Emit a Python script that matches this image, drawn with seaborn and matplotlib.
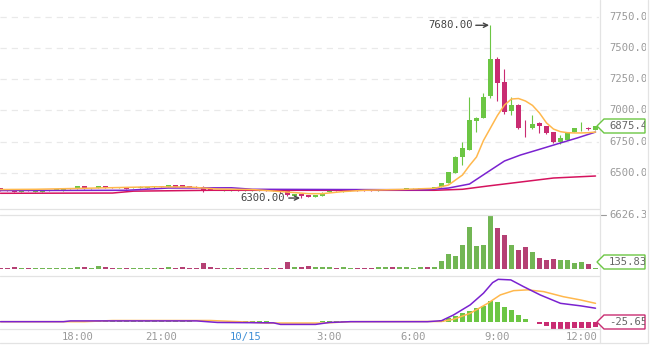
import numpy as np
import pandas as pd
import matplotlib
matplotlib.use("Agg")
import matplotlib.pyplot as plt
import matplotlib.transforms as mtrans
from matplotlib.patches import Polygon
from matplotlib.lines import Line2D
import seaborn as sns

sns.set_style("white")
plt.rcParams['font.family'] = ['DejaVu Sans Mono', 'DejaVu Sans']

# ---------------- data (15-minute candles, 10/14 15:15 -> 10/15 12:30) -------------
tick_pos = [11, 23, 35, 47, 59, 71, 83]
tick_labels = ["18:00", "21:00", "10/15", "3:00", "6:00", "9:00", "12:00"]

opens = [6378, 6370, 6367, 6352, 6366, 6352, 6352, 6360, 6364, 6362,
         6378, 6376, 6396, 6378, 6380, 6396, 6384, 6381, 6388, 6382,
         6382, 6380, 6386, 6394, 6391, 6404, 6404, 6396, 6392, 6391,
         6372, 6366, 6362, 6362, 6365, 6362, 6362, 6362, 6372, 6360,
         6364, 6356, 6319, 6332, 6324, 6311, 6319, 6348, 6359, 6351,
         6356, 6372, 6366, 6366, 6360, 6366, 6374, 6366, 6364, 6366,
         6372, 6378, 6372, 6388, 6420, 6500, 6628, 6684, 6915, 6940,
         7115, 7410, 7227, 6995, 7043, 6862, 6860, 6900, 6875, 6827,
         6745, 6763, 6827, 6858, 6862, 6845]
closes = [6362, 6364, 6352, 6370, 6362, 6360, 6362, 6364, 6367, 6380,
          6381, 6396, 6376, 6381, 6396, 6382, 6381, 6384, 6372, 6385,
          6385, 6390, 6396, 6390, 6404, 6391, 6391, 6390, 6380, 6364,
          6364, 6363, 6365, 6365, 6362, 6365, 6368, 6372, 6360, 6364,
          6346, 6324, 6332, 6314, 6311, 6324, 6343, 6359, 6356, 6364,
          6372, 6356, 6360, 6360, 6366, 6370, 6370, 6372, 6378, 6376,
          6378, 6372, 6388, 6420, 6508, 6628, 6700, 6923, 6940, 7107,
          7410, 7219, 6987, 7043, 6859, 6858, 6890, 6875, 6820, 6750,
          6780, 6827, 6860, 6862, 6848, 6875.4]
highs = [6382, 6372, 6370, 6372, 6368, 6362, 6364, 6366, 6368, 6382,
         6384, 6398, 6398, 6384, 6398, 6398, 6386, 6386, 6390, 6387,
         6396, 6392, 6398, 6396, 6406, 6406, 6406, 6398, 6394, 6393,
         6374, 6368, 6367, 6367, 6367, 6367, 6370, 6374, 6374, 6366,
         6366, 6358, 6334, 6334, 6326, 6326, 6345, 6372, 6361, 6366,
         6374, 6374, 6368, 6368, 6368, 6372, 6376, 6374, 6380, 6378,
         6380, 6380, 6390, 6424, 6512, 6632, 6748, 7107, 6945, 7139,
         7680, 7426, 7331, 7107, 7051, 6923, 6963, 6905, 6878, 6830,
         6803, 6830, 6863, 6907, 6870, 6878]
lows = [6358, 6360, 6348, 6350, 6360, 6350, 6350, 6358, 6362, 6360,
        6376, 6374, 6374, 6376, 6378, 6380, 6380, 6380, 6370, 6380,
        6380, 6378, 6384, 6388, 6389, 6389, 6389, 6388, 6378, 6346,
        6362, 6361, 6360, 6360, 6360, 6360, 6360, 6360, 6358, 6356,
        6344, 6320, 6316, 6300, 6305, 6309, 6317, 6346, 6354, 6349,
        6354, 6354, 6358, 6358, 6358, 6364, 6368, 6364, 6362, 6364,
        6370, 6370, 6370, 6386, 6418, 6498, 6564, 6680, 6827, 6936,
        7100, 7075, 6971, 6960, 6850, 6788, 6855, 6820, 6810, 6740,
        6735, 6760, 6825, 6835, 6840, 6843]
volumes = [150, 150, 250, 150, 150, 150, 150, 150, 150, 150,
           150, 250, 250, 150, 375, 250, 150, 150, 150, 150,
           150, 150, 150, 150, 250, 150, 250, 150, 150, 750,
           250, 150, 150, 150, 150, 150, 150, 150, 150, 150,
           150, 875, 250, 250, 375, 250, 250, 250, 125, 250,
           125, 125, 125, 125, 250, 250, 250, 250, 250, 125,
           250, 250, 250, 1000, 1875, 1625, 3000, 5126, 2875, 3000,
           6626.37, 5000, 4125, 3000, 2375, 2750, 2125, 1375, 1125, 1250,
           1125, 1125, 750, 875, 625, 135.83]

# moving averages read at key candle positions
ma_fast_x = [0, 5, 12, 22, 27, 31, 36, 40, 44, 46, 49, 52, 58, 62, 64, 66, 67, 68,
             69, 70, 71, 72, 73, 74, 75, 76, 77, 78, 79, 80, 81, 82, 83, 84, 85]
ma_fast_y = [6368, 6370, 6378, 6390, 6388, 6372, 6368, 6352, 6335, 6335, 6352, 6362,
             6370, 6378, 6404, 6484, 6560, 6628, 6760, 6860, 6960, 7043, 7091, 7095,
             7075, 7040, 6979, 6900, 6851, 6830, 6822, 6820, 6820, 6822, 6827]
ma_mid_x = [0, 18, 24, 33, 36, 61, 64, 67, 69.6, 72, 74.3, 76.7, 80, 82.4, 85]
ma_mid_y = [6360, 6362, 6380, 6382, 6370, 6366, 6380, 6412, 6508, 6596, 6644, 6684,
            6740, 6780, 6827]
ma_slow_x = [0, 16, 19, 30, 62, 66, 69.6, 74.3, 79, 85]
ma_slow_y = [6338, 6340, 6355, 6362, 6362, 6370, 6396, 6428, 6460, 6476]

dif_x = [0, 9, 10, 28, 31, 39, 40, 45, 47, 50, 61, 63, 64.7, 67.1, 69, 70.3, 71.1,
         72.9, 74.7, 77.1, 80, 82.9, 85]
dif_y = [0, 0, 4, 4, -4, -6, -14, -14, -4, 0, 0, 5, 34, 86, 146, 200, 217, 214, 180,
         137, 94, 81, 69]
dea_x = [0, 12, 16, 30, 34, 38, 46, 50, 63, 64.7, 67.1, 69.6, 71.4, 73.3, 75.3, 77.6,
         80.4, 82.9, 85]
dea_y = [0, 0, 6, 6, 0, -7, -7, 0, 1, 12, 43, 94, 137, 159, 163, 154, 128, 111, 94]
macd_hist = [0.7] * 13 + [3] * 15 + [0.7] * 2 + [-4] * 3 + [1.5] * 6 + [-1.5] + [-4] * 6 + \
            [3] * 16 + [2.5, 9, 17, 29, 43, 56, 68, 82, 106, 101, 75, 60, 34, 14, -4, -10,
                        -21, -37, -37, -37, -34, -34, -31, -25.65]

price_ticks = [6500, 6750, 7000, 7250, 7500, 7750]

# ---------------- styling -------------
UP = "#6cc644"
DOWN = "#c92c72"
C_FAST = "#ffb84d"
C_MID = "#7a22d0"
C_SLOW = "#d5135e"
GRID = "#e9e9e9"
FRAME = "#e3e3e3"
LBL = "#9a9a9a"

W, H = 664, 346
fig = plt.figure(figsize=(W / 100, H / 100), dpi=100)
fig.patch.set_facecolor("white")


def fy(y):
    return 1 - y / H


XL = (-0.07, 85.5)
ax_p = fig.add_axes([0, fy(209), 599 / W, 209 / H])
ax_v = fig.add_axes([0, fy(269), 599 / W, (269 - 215) / H])
ax_m = fig.add_axes([0, fy(329), 599 / W, (329 - 276) / H])

idx = np.arange(len(opens))
o = np.array(opens, float)
c = np.array(closes, float)
hi = np.array(highs, float)
lo = np.array(lows, float)
direction = ["up" if cc >= oo else "down" for oo, cc in zip(o, c)]
col = [UP if d == "up" else DOWN for d in direction]

# price panel
for yv in price_ticks:
    ax_p.axhline(yv, color=GRID, lw=0.9, dashes=(5, 4), zorder=0)
ax_p.vlines(idx, lo, hi, colors=col, lw=0.8, zorder=2)
body_b = np.minimum(o, c)
body_h = np.maximum(np.abs(c - o), 5)
ax_p.bar(idx, body_h, bottom=body_b, width=0.72, color=col, zorder=3, linewidth=0)

for xs, ys, cl in [(ma_slow_x, ma_slow_y, C_SLOW), (ma_mid_x, ma_mid_y, C_MID),
                   (ma_fast_x, ma_fast_y, C_FAST)]:
    sns.lineplot(x=xs, y=ys, ax=ax_p, color=cl, lw=1.1, zorder=4)

ax_p.set_xlim(*XL)
ax_p.set_ylim(6212.5, 7881.8)
ax_p.axis("off")

arrow_kw = dict(arrowstyle="->", color="#444444", lw=1.0, shrinkA=0, shrinkB=1)
ax_p.annotate("7680.00", xy=(70, 7680), xytext=(-18, 0), textcoords="offset pixels",
              ha="right", va="center", fontsize=7.6, color="#444444",
              arrowprops=arrow_kw, annotation_clip=False)
ax_p.annotate("6300.00", xy=(43, 6300), xytext=(-16, 0), textcoords="offset pixels",
              ha="right", va="center", fontsize=7.6, color="#444444",
              arrowprops=arrow_kw, annotation_clip=False)

# volume panel
vdf = pd.DataFrame({"i": idx, "v": volumes, "d": direction})
sns.barplot(data=vdf, x="i", y="v", hue="d", palette={"up": UP, "down": DOWN},
            dodge=False, width=0.72, legend=False, ax=ax_v, linewidth=0,
            native_scale=True)
ax_v.set_xlim(*XL)
ax_v.set_ylim(0, 6626.37)
ax_v.axis("off")

# MACD panel
h = np.array(macd_hist, float)
ax_m.bar(idx, h, width=0.72, color=[UP if v >= 0 else DOWN for v in h], linewidth=0, zorder=2)
sns.lineplot(x=dea_x, y=dea_y, ax=ax_m, color=C_FAST, lw=1.1, zorder=3)
sns.lineplot(x=dif_x, y=dif_y, ax=ax_m, color=C_MID, lw=1.1, zorder=4)
ax_m.set_xlim(*XL)
ax_m.set_ylim(-37.5, 234)
for s in ax_m.spines.values():
    s.set_visible(False)
ax_m.set_yticks([])
ax_m.set_xticks(tick_pos)
ax_m.set_xticklabels(tick_labels, fontsize=7.6, color=LBL)
ax_m.tick_params(axis="x", length=0, pad=2)
for t in ax_m.get_xticklabels():
    if t.get_text() == "10/15":
        t.set_color("#3f8fd6")
ax_m.set_ylabel("")
ax_m.set_xlabel("")


# frame lines (pixel coordinates)
def hline(y, x0, x1):
    fig.add_artist(Line2D([x0 / W, x1 / W], [fy(y), fy(y)], color=FRAME, lw=0.9,
                          transform=fig.transFigure))


def vline(x, y0, y1):
    fig.add_artist(Line2D([x / W, x / W], [fy(y0), fy(y1)], color=FRAME, lw=0.9,
                          transform=fig.transFigure))


hline(209, 0, 599)
hline(215, 0, 599)
hline(276, 0, 599)
hline(329, 0, 599)
hline(343, 0, 647)
vline(599.5, 0, 343)
vline(647.5, 0, 343)

clip_bb = mtrans.TransformedBbox(mtrans.Bbox.from_extents(599 / W, 0, 646 / W, 1),
                                 fig.transFigure)

# right axis labels for price
tr_p = mtrans.blended_transform_factory(fig.transFigure, ax_p.transData)
for yv in price_ticks:
    t = fig.text(609 / W, yv, f"{yv:.2f}", transform=tr_p, ha="left", va="center",
                 fontsize=7.6, color=LBL)
    t.set_clip_box(clip_bb)
    t.set_clip_on(True)

# volume max label with tick
tr_v = mtrans.blended_transform_factory(fig.transFigure, ax_v.transData)
fig.add_artist(Line2D([601 / W, 606 / W], [6626.37, 6626.37], color=LBL, lw=0.8,
                      transform=tr_v))
t = fig.text(609 / W, 6626.37, "6626.37", transform=tr_v, ha="left", va="center",
             fontsize=7.6, color=LBL)
t.set_clip_box(clip_bb)
t.set_clip_on(True)


def value_box(yc, text, color):
    pts = [(597, yc), (604, yc - 7), (645, yc - 7), (645, yc + 7), (604, yc + 7)]
    poly = Polygon([(x / W, fy(y)) for x, y in pts], closed=True, facecolor="white",
                   edgecolor=color, lw=1.0, transform=fig.transFigure, zorder=5)
    fig.add_artist(poly)
    tt = fig.text(609 / W, fy(yc), text, ha="left", va="center", fontsize=7.6,
                  color="#666666", zorder=6)
    tt.set_clip_box(mtrans.TransformedBbox(
        mtrans.Bbox.from_extents(599 / W, 0, 644.5 / W, 1), fig.transFigure))
    tt.set_clip_on(True)


value_box(126, "6875.40", UP)
value_box(262, "135.83", UP)
value_box(322, "-25.65", DOWN)

fig.savefig("out.png", dpi=100, facecolor="white")
